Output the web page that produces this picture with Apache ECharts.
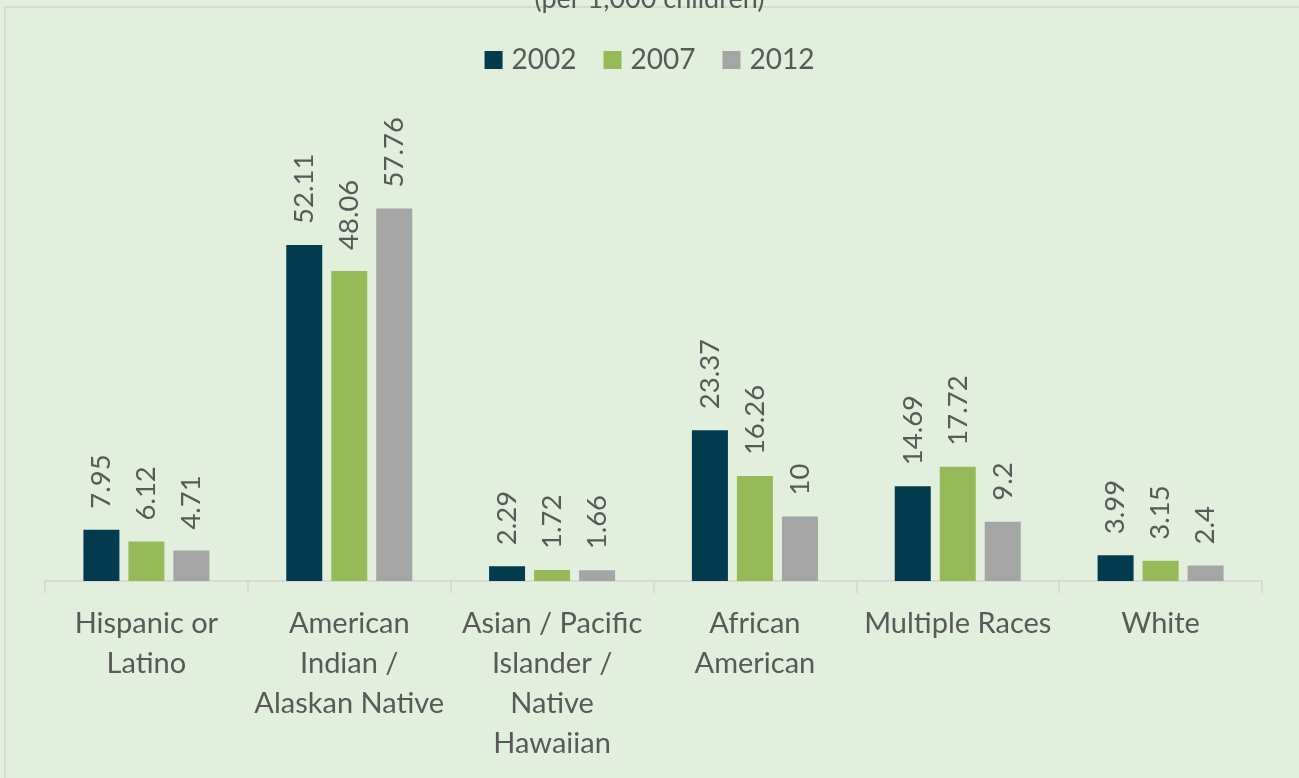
<!DOCTYPE html>
<html><head><meta charset="utf-8">
<script src="https://cdn.jsdelivr.net/npm/echarts@6/dist/echarts.min.js"></script>
<style>html,body{margin:0;padding:0;background:#e2efdd}#c{width:1299px;height:778px}</style>
</head><body><div id="c"></div>
<script>
const categories = ['Hispanic or\nLatino', 'American\nIndian /\nAlaskan Native', 'Asian / Pacific\nIslander /\nNative\nHawaiian', 'African\nAmerican', 'Multiple Races', 'White'];
const seriesNames = ['2002', '2007', '2012'];
const v2002 = [7.95, 52.11, 2.29, 23.37, 14.69, 3.99];
const v2007 = [6.12, 48.06, 1.72, 16.26, 17.72, 3.15];
const v2012 = [4.71, 57.76, 1.66, 10, 9.2, 2.4];
const colors = ['#023a4e', '#95bb59', '#a5a5a5'];
const FONT = 'Lato';
const chart = echarts.init(document.getElementById('c'), null, {renderer: 'canvas'});
const mk = (name, data, color) => ({
  name, type: 'bar', data, barWidth: 36, barGap: '25%',
  itemStyle: {color},
  label: {show: true, position: 'top', rotate: 90, align: 'left', verticalAlign: 'middle', distance: 21,
    fontFamily: FONT, fontSize: 27.5, color: '#595959', formatter: p => String(p.value)}
});
chart.setOption({
  backgroundColor: '#e2efdd',
  animation: false,
  title: {text: '(per 1,000 children)', left: 'center', top: -19,
    textStyle: {fontFamily: FONT, fontSize: 27, fontWeight: 'normal', color: '#595959'}},
  legend: {top: 41, left: 'center', itemWidth: 18, itemHeight: 18, itemGap: 27,
    icon: 'rect', textStyle: {fontFamily: FONT, fontSize: 28, color: '#595959', padding: [0, 0, 0, 4]}, data: seriesNames},
  grid: {left: 45, right: 37, top: 194, bottom: 197, containLabel: false},
  xAxis: {type: 'category', data: categories,
    axisLine: {lineStyle: {color: '#d9d9d9', width: 2}},
    axisTick: {show: true, length: 12, lineStyle: {color: '#d9d9d9', width: 2}},
    axisLabel: {fontFamily: FONT, fontSize: 29, color: '#595959', lineHeight: 40, margin: 23, interval: 0}},
  yAxis: {type: 'value', min: 0, max: 60, show: false, splitLine: {show: false}},
  graphic: [{type: 'rect', shape: {x: 5, y: 7, width: 1400, height: 900},
    style: {fill: 'none', stroke: '#d9d9d9', lineWidth: 2}, z: -1}],
  series: [mk(seriesNames[0], v2002, colors[0]), mk(seriesNames[1], v2007, colors[1]), mk(seriesNames[2], v2012, colors[2])]
});
</script></body></html>
